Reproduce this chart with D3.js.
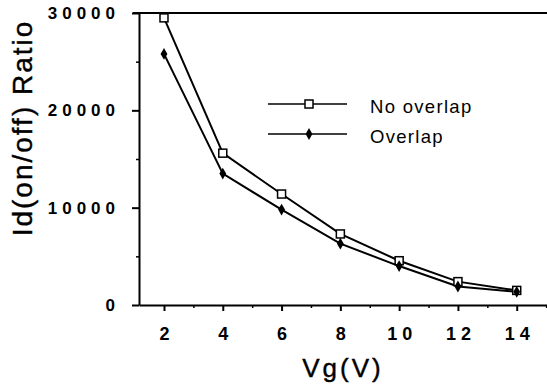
<!DOCTYPE html>
<html>
<head>
<meta charset="utf-8">
<script src="https://cdn.jsdelivr.net/npm/d3@7"></script>
<style>
  body { margin: 0; background: #fff; }
  svg { display: block; }
  text { font-family: "Liberation Sans", Arial, sans-serif; fill: #000; }
</style>
</head>
<body>
<svg id="chart" width="547" height="389"></svg>
<script>
// values
const vg = [2, 4, 6, 8, 10, 12, 14];
const noOverlap = [29500, 15600, 11400, 7300, 4550, 2400, 1500];
const overlap = [25800, 13500, 9800, 6300, 4000, 1900, 1350];
const yTicks = [0, 10000, 20000, 30000];
const yMinor = [5000, 15000, 25000];
const xTicks = [2, 4, 6, 8, 10, 12, 14];
const xMinor = [3, 5, 7, 9, 11, 13, 15];

const svg = d3.select('#chart');
const plotL = 139, plotR = 547, plotT = 13, plotB = 305;

const x = d3.scaleLinear().domain([1.15, 15.03]).range([plotL, plotR]);
const y = d3.scaleLinear().domain([0, 30000]).range([plotB, plotT]);

// frame line along the top
svg.append('line').attr('x1', plotL - 6).attr('x2', plotR).attr('y1', plotT).attr('y2', plotT)
  .attr('stroke', '#000').attr('stroke-width', 2);

// y axis
const yAxis = svg.append('g').attr('transform', `translate(${plotL},0)`)
  .call(d3.axisLeft(y).tickValues(yTicks).tickFormat(d3.format('d'))
    .tickSize(7).tickPadding(12).tickSizeOuter(0));
yAxis.select('.domain').attr('stroke-width', 2);
yAxis.selectAll('.tick line').attr('stroke-width', 2);
yAxis.selectAll('text')
  .style('font-size', '17px').style('font-weight', 'bold').style('letter-spacing', '5px');
svg.append('g').attr('transform', `translate(${plotL},0)`)
  .call(d3.axisLeft(y).tickValues(yMinor).tickSize(3).tickFormat(''))
  .call(g => g.select('.domain').remove())
  .selectAll('.tick line').attr('stroke-width', 1.5);

// x axis
const xAxis = svg.append('g').attr('transform', `translate(0,${plotB})`)
  .call(d3.axisBottom(x).tickValues(xTicks).tickSize(6).tickPadding(16).tickSizeOuter(0));
xAxis.select('.domain').attr('stroke-width', 2);
xAxis.selectAll('.tick line').attr('stroke-width', 2);
xAxis.selectAll('text')
  .style('font-size', '18px').style('font-weight', 'bold').style('letter-spacing', '5px')
  .attr('dx', '2.5px');
svg.append('g').attr('transform', `translate(0,${plotB})`)
  .call(d3.axisBottom(x).tickValues(xMinor).tickSize(3).tickFormat(''))
  .call(g => g.select('.domain').remove())
  .selectAll('.tick line').attr('stroke-width', 1.5);

// axis titles
svg.append('text')
  .attr('transform', 'translate(32,128) rotate(-90)')
  .attr('text-anchor', 'middle')
  .style('font-size', '28px').style('letter-spacing', '2px')
  .attr('stroke', '#000').attr('stroke-width', 0.4)
  .text('Id(on/off) Ratio');
svg.append('text')
  .attr('x', 343).attr('y', 377)
  .attr('text-anchor', 'middle')
  .style('font-size', '26px').style('letter-spacing', '3px')
  .attr('stroke', '#000').attr('stroke-width', 0.4)
  .text('Vg(V)');

// series lines
const line = d3.line().x((d, i) => x(vg[i])).y(d => y(d));
[noOverlap, overlap].forEach(s => {
  svg.append('path').datum(s).attr('d', line)
    .attr('fill', 'none').attr('stroke', '#000').attr('stroke-width', 2);
});

// markers
svg.append('g').selectAll('rect').data(noOverlap).enter().append('rect')
  .attr('x', (d, i) => x(vg[i]) - 4).attr('y', d => y(d) - 4)
  .attr('width', 8).attr('height', 8)
  .attr('fill', '#fff').attr('stroke', '#000').attr('stroke-width', 1.5);
const diamond = d3.symbol().type(d3.symbolDiamond).size(40);
svg.append('g').selectAll('path').data(overlap).enter().append('path')
  .attr('d', diamond)
  .attr('transform', (d, i) => `translate(${x(vg[i])},${y(d)})`)
  .attr('fill', '#000');

// legend
const legend = [
  { label: 'No overlap', type: 'square', y: 104 },
  { label: 'Overlap', type: 'diamond', y: 134 }
];
const lg = svg.append('g');
legend.forEach(l => {
  lg.append('line').attr('x1', 268).attr('x2', 347).attr('y1', l.y).attr('y2', l.y)
    .attr('stroke', '#000').attr('stroke-width', 1.5);
  if (l.type === 'square') {
    lg.append('rect').attr('x', 305).attr('y', l.y - 4).attr('width', 8).attr('height', 8)
      .attr('fill', '#fff').attr('stroke', '#000').attr('stroke-width', 1.5);
  } else {
    lg.append('path').attr('d', diamond).attr('transform', `translate(309,${l.y})`).attr('fill', '#000');
  }
  lg.append('text').attr('x', 370).attr('y', l.y + 9)
    .style('font-size', '18.5px').style('letter-spacing', '1.3px')
    .text(l.label);
});
</script>
</body>
</html>
